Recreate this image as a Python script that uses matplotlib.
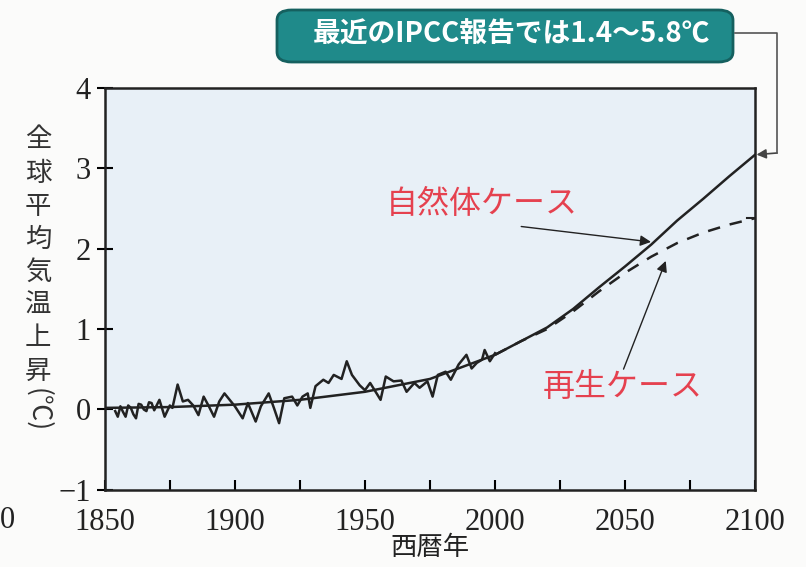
import matplotlib.pyplot as plt
from matplotlib.patches import FancyBboxPatch

obs_years = [1854, 1855, 1856, 1857, 1858, 1859, 1860, 1861, 1862, 1863, 1864, 1865, 1866, 1867,
             1868, 1869, 1871, 1873, 1875, 1876, 1878, 1880, 1882, 1884, 1886, 1888, 1890, 1892,
             1894, 1896, 1898, 1900, 1903, 1905, 1908, 1910, 1913, 1915, 1917, 1919, 1922, 1924,
             1926, 1928, 1929, 1931, 1934, 1936, 1938, 1941, 1943, 1945, 1948, 1950, 1952, 1956,
             1958, 1961, 1964, 1966, 1969, 1971, 1974, 1976, 1978, 1981, 1983, 1986, 1989, 1991,
             1993, 1995, 1996, 1998, 2000]
obs_vals = [-0.02, -0.09, 0.04, -0.03, -0.09, 0.05, 0.02, -0.06, -0.11, 0.07, 0.06, 0.0, -0.02, 0.09,
            0.08, -0.01, 0.12, -0.09, 0.05, 0.02, 0.31, 0.10, 0.12, 0.05, -0.07, 0.16, 0.04, -0.09,
            0.10, 0.20, 0.12, 0.04, -0.11, 0.08, -0.15, 0.04, 0.20, 0.02, -0.17, 0.14, 0.16, 0.05,
            0.16, 0.20, 0.02, 0.29, 0.37, 0.33, 0.43, 0.38, 0.60, 0.43, 0.30, 0.24, 0.33, 0.12,
            0.41, 0.35, 0.36, 0.22, 0.33, 0.27, 0.35, 0.16, 0.43, 0.47, 0.37, 0.56, 0.68, 0.51,
            0.58, 0.62, 0.74, 0.60, 0.70]

# smoothed / projection
fit_years = [1850, 1875, 1900, 1925, 1950, 1975, 2000, 2010, 2020, 2030, 2040, 2050, 2060,
             2070, 2080, 2090, 2100]
natural = [0.02, 0.03, 0.06, 0.12, 0.22, 0.38, 0.68, 0.85, 1.02, 1.25, 1.52, 1.78, 2.05,
           2.35, 2.62, 2.90, 3.17]
renew_years = [2000, 2010, 2020, 2030, 2040, 2050, 2060, 2070, 2080, 2090, 2100]
renew = [0.68, 0.85, 1.00, 1.22, 1.47, 1.70, 1.90, 2.07, 2.20, 2.30, 2.38]

xticks = [1850, 1900, 1950, 2000, 2050, 2100]
yticks = [-1, 0, 1, 2, 3, 4]

fig = plt.figure(figsize=(8.06, 5.67), dpi=100)
fig.patch.set_facecolor('#fbfbfa')
ax = fig.add_axes([0.130, 0.136, 0.807, 0.709])
ax.set_facecolor('#e8f0f7')

ax.plot(obs_years, obs_vals, color='#222222', lw=1.8)
ax.plot(fit_years, natural, color='#222222', lw=1.8)
ax.plot(renew_years, renew, color='#222222', lw=1.8, ls=(0, (5, 4)))
ax.plot([2097, 2100], [renew[-1], renew[-1]], color='#222222', lw=1.5)

ax.set_xlim(1850, 2100)
ax.set_ylim(-1, 4)
ax.set_xticks(xticks)
ax.set_xticks([1875, 1925, 1975, 2025, 2075], minor=True)
ax.set_yticks(yticks)
ax.set_yticklabels(['−1', '0', '1', '2', '3', '4'])
for lab in ax.get_xticklabels() + ax.get_yticklabels():
    lab.set_family('Liberation Serif')
    lab.set_fontsize(22)
    lab.set_color('#222222')
ax.tick_params(axis='x', which='both', direction='in', length=7, width=1.5, pad=13)
ax.tick_params(axis='y', direction='inout', length=12, width=1.5, pad=4)
for s in ax.spines.values():
    s.set_linewidth(1.8)
    s.set_color('#222222')

jp = ['Noto Sans CJK JP', 'DejaVu Sans']
ax.set_xlabel('西暦年', family=jp, fontsize=19, color='#222222', labelpad=-2)

# vertical y label
ylab = '全球平均気温上昇'
for i, ch in enumerate(ylab):
    fig.text(0.047, 1 - (140 + i * 33) / 567, ch, family=jp, fontsize=19,
             color='#333333', ha='center', va='center')
fig.text(0.047, 1 - 410 / 567, '(℃)', family=jp, fontsize=19, color='#333333',
         ha='center', va='center', rotation=-90)

fig.text(0.0, 1 - 520 / 567, '0', family='Liberation Serif', fontsize=22,
         color='#222222', ha='left', va='center')

red = '#e5414f'
ax.text(1995, 2.55, '自然体ケース', family=jp, fontsize=23, color=red, ha='center', va='center')
ax.text(2049, 0.28, '再生ケース', family=jp, fontsize=23, color=red, ha='center', va='center')
ax.annotate('', xy=(2061, 2.08), xytext=(2009, 2.28),
            arrowprops=dict(arrowstyle='-|>', color='#222222', lw=1, mutation_scale=16))
ax.annotate('', xy=(2066, 1.88), xytext=(2049, 0.47),
            arrowprops=dict(arrowstyle='-|>', color='#222222', lw=1, mutation_scale=16))

# callout box
box = FancyBboxPatch((277 / 806, 1 - 62 / 567), 456 / 806, 52 / 567,
                     boxstyle='round,pad=0,rounding_size=0.018', transform=fig.transFigure,
                     facecolor='#1f8a8a', edgecolor='#15605f', lw=2)
fig.patches.append(box)
fig.text(512 / 806, 1 - 35 / 567, '最近のIPCC報告では1.4～5.8℃', family=jp, fontsize=20,
         weight='bold', color='white', ha='center', va='center')
fig.lines.append(plt.Line2D([735 / 806, 777 / 806, 777 / 806], [1 - 33 / 567, 1 - 33 / 567, 1 - 153 / 567],
                            transform=fig.transFigure, color='#555555', lw=1.2))
ax.annotate('', xy=(2100.5, natural[-1]), xytext=(777 / 806, 1 - 153 / 567),
            textcoords='figure fraction', annotation_clip=False,
            arrowprops=dict(arrowstyle='-|>', color='#444444', lw=1.2, mutation_scale=14,
                            shrinkA=0, shrinkB=0))

fig.savefig('out.png', dpi=100, facecolor=fig.get_facecolor())
